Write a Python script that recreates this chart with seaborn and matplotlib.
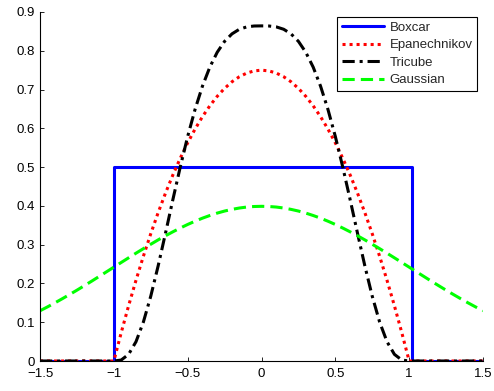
import matplotlib
matplotlib.use("Agg")
import matplotlib.pyplot as plt
import seaborn as sns

# sample positions read along the x axis
x = [-1.5, -1.45, -1.4, -1.35, -1.3, -1.25, -1.2, -1.15, -1.1, -1.05,
     -1.0, -0.95, -0.9, -0.85, -0.8, -0.75, -0.7, -0.65, -0.6, -0.55,
     -0.5, -0.45, -0.4, -0.35, -0.3, -0.25, -0.2, -0.15, -0.1, -0.05,
     0.0, 0.05, 0.1, 0.15, 0.2, 0.25, 0.3, 0.35, 0.4, 0.45,
     0.5, 0.55, 0.6, 0.65, 0.7, 0.75, 0.8, 0.85, 0.9, 0.95,
     1.0, 1.05, 1.1, 1.15, 1.2, 1.25, 1.3, 1.35, 1.4, 1.45, 1.5]

epanechnikov = [0, 0, 0, 0, 0, 0, 0, 0, 0, 0,
                0, 0.0731, 0.1425, 0.2081, 0.27, 0.3281, 0.3825, 0.4331, 0.48, 0.5231,
                0.5625, 0.5981, 0.63, 0.6581, 0.6825, 0.7031, 0.72, 0.7331, 0.7425, 0.7481,
                0.75, 0.7481, 0.7425, 0.7331, 0.72, 0.7031, 0.6825, 0.6581, 0.63, 0.5981,
                0.5625, 0.5231, 0.48, 0.4331, 0.3825, 0.3281, 0.27, 0.2081, 0.1425, 0.0731,
                0, 0, 0, 0, 0, 0, 0, 0, 0, 0, 0]

tricube = [0, 0, 0, 0, 0, 0, 0, 0, 0, 0,
           0, 0.0025, 0.0172, 0.0497, 0.1004, 0.167, 0.2451, 0.3298, 0.4165, 0.5006,
           0.579, 0.6488, 0.7087, 0.7578, 0.7961, 0.8243, 0.8436, 0.8555, 0.8616, 0.8639,
           0.8642, 0.8639, 0.8616, 0.8555, 0.8436, 0.8243, 0.7961, 0.7578, 0.7087, 0.6488,
           0.579, 0.5006, 0.4165, 0.3298, 0.2451, 0.167, 0.1004, 0.0497, 0.0172, 0.0025,
           0, 0, 0, 0, 0, 0, 0, 0, 0, 0, 0]

gaussian = [0.1295, 0.1394, 0.1497, 0.1604, 0.1714, 0.1826, 0.1942, 0.2059, 0.2179, 0.2299,
            0.242, 0.2541, 0.2661, 0.278, 0.2897, 0.3011, 0.3123, 0.323, 0.3332, 0.3429,
            0.3521, 0.3605, 0.3683, 0.3752, 0.3814, 0.3867, 0.391, 0.3945, 0.397, 0.3984,
            0.3989, 0.3984, 0.397, 0.3945, 0.391, 0.3867, 0.3814, 0.3752, 0.3683, 0.3605,
            0.3521, 0.3429, 0.3332, 0.323, 0.3123, 0.3011, 0.2897, 0.278, 0.2661, 0.2541,
            0.242, 0.2299, 0.2179, 0.2059, 0.1942, 0.1826, 0.1714, 0.1604, 0.1497, 0.1394, 0.1295]

boxcar_x = [-1.5, -1.0, -1.0, 1.02, 1.02, 1.5]
boxcar_y = [0, 0, 0.5, 0.5, 0, 0]

xticks = [-1.5, -1, -0.5, 0, 0.5, 1, 1.5]
xticklabels = ["\u22121.5", "\u22121", "\u22120.5", "0", "0.5", "1", "1.5"]
yticks = [0, 0.1, 0.2, 0.3, 0.4, 0.5, 0.6, 0.7, 0.8, 0.9]
yticklabels = ["0", "0.1", "0.2", "0.3", "0.4", "0.5", "0.6", "0.7", "0.8", "0.9"]

sns.set_style("white")
plt.rcParams["font.family"] = ["Liberation Sans", "DejaVu Sans"]

fig = plt.figure(figsize=(4.94, 3.91), dpi=100)
ax = fig.add_axes([40 / 494, 30 / 391, 443 / 494, 349 / 391])

lw = 2.2
sns.lineplot(x=boxcar_x, y=boxcar_y, ax=ax, color=(0, 0, 1), lw=lw,
             label="Boxcar", sort=False, estimator=None)
sns.lineplot(x=x, y=epanechnikov, ax=ax, color=(1, 0, 0), lw=lw,
             label="Epanechnikov", sort=False, estimator=None, linestyle=(0, (1, 1.3)))
sns.lineplot(x=x, y=tricube, ax=ax, color="black", lw=lw,
             label="Tricube", sort=False, estimator=None, linestyle=(0, (4, 1.6, 1, 1.6)))
sns.lineplot(x=x, y=gaussian, ax=ax, color=(0, 1, 0), lw=lw,
             label="Gaussian", sort=False, estimator=None, linestyle=(0, (4, 2)))

ax.set_xlim(-1.5, 1.5)
ax.set_ylim(0, 0.9)
ax.set_xticks(xticks)
ax.set_xticklabels(xticklabels)
ax.set_yticks(yticks)
ax.set_yticklabels(yticklabels)
ax.tick_params(direction="in", length=3, width=0.6, labelsize=9.5, colors="black",
               top=False, right=False, bottom=True, left=True)
ax.tick_params(axis="x", pad=5)
ax.tick_params(axis="y", pad=3.5)
for s in ["top", "right"]:
    ax.spines[s].set_visible(False)
for s in ["left", "bottom"]:
    ax.spines[s].set_color("black")
    ax.spines[s].set_linewidth(0.8)

leg = ax.legend(loc="upper right", bbox_to_anchor=(437 / 443, 344 / 349), fontsize=9.5,
                frameon=True, fancybox=False, edgecolor="black", handlelength=3.2,
                handletextpad=0.4, borderpad=0.35, labelspacing=0.4, borderaxespad=0)
leg.get_frame().set_linewidth(0.8)
leg.get_frame().set_alpha(1)

fig.savefig("out.png", dpi=100)
